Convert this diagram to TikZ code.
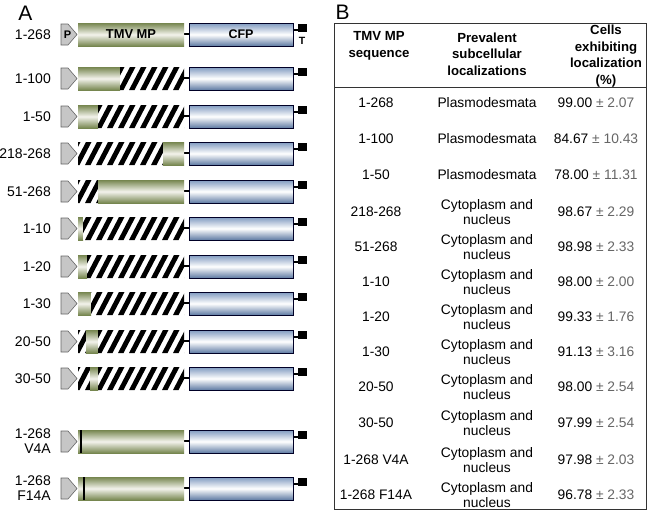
\documentclass[tikz,border=0pt]{standalone}
\usepackage{fontspec}
\setmainfont{Liberation Sans}
\definecolor{mpg}{HTML}{76864F}
\definecolor{mpl}{HTML}{F3F3EC}
\definecolor{cfpt}{HTML}{7F99BF}
\definecolor{cfpb}{HTML}{5E7AA3}
\definecolor{pgray}{HTML}{C6C6C6}
\definecolor{valgray}{HTML}{666666}
\definecolor{tabline}{HTML}{333333}
\tikzset{
  lbl/.style={anchor=east, inner sep=0pt, font=\fontsize{14}{15}\selectfont},
  cell/.style={align=center, inner sep=0pt, font=\fontsize{13.8}{15.5}\selectfont},
  head/.style={align=center, inner sep=0pt, font=\fontsize{13.2}{16.5}\selectfont\bfseries},
  panel/.style={anchor=center, inner sep=0pt, font=\fontsize{21}{21}\selectfont},
  promoter/.style={fill=pgray, draw=black!60, line width=0.6pt},
  cfpbox/.style={top color=cfpt, bottom color=cfpb, middle color=white, draw=black!85!blue, line width=0.9pt},
  mpbox/.style={top color=mpg, bottom color=mpg, middle color=mpl},
  linker/.style={line width=2pt, black},
  mutline/.style={line width=1.6pt, black}
}
% #1 = top y of the row
\newcommand\construct[1]{%
  \filldraw[promoter] (61,#1+1) -- (68,#1+1) -- (77,#1+11.5) -- (68,#1+22) -- (61,#1+22) -- cycle;
  \shade[cfpbox] (189,#1) rectangle (293,#1+23);
  \draw[linker] (184,#1+11) -- (189,#1+11);
  \draw[line width=1.5pt] (293.5,#1+7) -- (298,#1+7);
  \fill[black] (298,#1+1) rectangle (307,#1+9);
}
% #1 top, #2 x1, #3 x2
\newcommand\greenseg[3]{\shade[mpbox] (#2,#1) rectangle (#3,#1+23);}
\newcommand\hatchseg[3]{%
  \begin{scope}
    \clip (#2,#1) rectangle (#3,#1+23);
    \fill[white] (#2,#1) rectangle (#3,#1+23);
    \foreach \s in {52,63,...,190} {
      \fill[black] (\s,#1+23) -- (\s+5.5,#1+23) -- (\s+17.5,#1) -- (\s+12,#1) -- cycle;
    }
  \end{scope}
}
\begin{document}
\begin{tikzpicture}[x=1pt,y=-1pt]
\useasboundingbox (0,0) rectangle (650,512);
\fill[white] (0,0) rectangle (650,512);

% ---------- Panel A ----------
\node[panel] (pA) at (25.5,13) {A};

% row 1: 1-268
\construct{23}
\greenseg{23}{78}{184}
\node[inner sep=0pt, font=\fontsize{11}{11}\selectfont\bfseries] (P) at (67.5,34.5) {P};
\node[inner sep=0pt, font=\fontsize{12.9}{13}\selectfont\bfseries] (tmv) at (131,34.5) {TMV MP};
\node[inner sep=0pt, font=\fontsize{12.5}{13}\selectfont\bfseries] (cfp) at (241,34.5) {CFP};
\node[inner sep=0pt, font=\fontsize{10.5}{11}\selectfont\bfseries] (T) at (302,40.5) {T};
\node[lbl] (l1) at (51,34.5) {1-268};

% row 2: 1-100
\construct{67}
\greenseg{67}{78}{120}\hatchseg{67}{120}{184}
\node[lbl] (l2) at (51,78.5) {1-100};

% row 3: 1-50
\construct{105}
\greenseg{105}{78}{98}\hatchseg{105}{98}{184}
\node[lbl] (l3) at (51,116.5) {1-50};

% row 4: 218-268
\construct{142}
\hatchseg{142}{78}{163}\greenseg{142}{163}{184}
\node[lbl] (l4) at (51,153.5) {218-268};

% row 5: 51-268
\construct{180}
\hatchseg{180}{78}{98}\greenseg{180}{98}{184}
\node[lbl] (l5) at (51,191.5) {51-268};

% row 6: 1-10
\construct{217}
\greenseg{217}{78}{83}\hatchseg{217}{83}{184}
\node[lbl] (l6) at (51,228.5) {1-10};

% row 7: 1-20
\construct{255}
\greenseg{255}{78}{87}\hatchseg{255}{87}{184}
\node[lbl] (l7) at (51,266.5) {1-20};

% row 8: 1-30
\construct{292}
\greenseg{292}{78}{91}\hatchseg{292}{91}{184}
\node[lbl] (l8) at (51,303.5) {1-30};

% row 9: 20-50
\construct{330}
\hatchseg{330}{78}{86}\greenseg{330}{86}{98}\hatchseg{330}{98}{184}
\node[lbl] (l9) at (51,341.5) {20-50};

% row 10: 30-50
\construct{367}
\hatchseg{367}{78}{90}\greenseg{367}{90}{98}\hatchseg{367}{98}{184}
\node[lbl] (l10) at (51,378.5) {30-50};

% row 11: 1-268 V4A
\construct{430}
\greenseg{430}{78}{184}
\draw[mutline] (81,430) -- (81,453);
\node[lbl, align=right] (l11) at (51,441.5) {1-268\\V4A};

% row 12: 1-268 F14A
\construct{477}
\greenseg{477}{78}{184}
\draw[mutline] (84,477) -- (84,500);
\node[lbl, align=right] (l12) at (51,488.5) {1-268\\F14A};

% ---------- Panel B ----------
\node[panel] (pB) at (342.5,12) {B};
\draw[tabline, line width=1pt] (334,23) rectangle (646,509);
\draw[tabline, line width=0.8pt] (334,87) -- (646,87);

\node[head] (h1) at (379,46) {TMV MP\\sequence};
\node[head] (h2) at (487,54) {Prevalent\\subcellular\\localizations};
\node[head] (h3) at (606,56) {Cells\\exhibiting\\localization\\(\%)};

\newcommand\trow[5]{%
  \node[cell] (a#1) at (376,#2) {#3};
  \node[cell] (b#1) at (487,#2) {#4};
  \node[cell] (c#1) at (596,#2) {#5};
}
\def\cyt{Cytoplasm and\\nucleus}
\trow{1}{103}{1-268}{Plasmodesmata}{99.00 {\color{valgray}± 2.07}}
\trow{2}{139}{1-100}{Plasmodesmata}{84.67 {\color{valgray}± 10.43}}
\trow{3}{175}{1-50}{Plasmodesmata}{78.00 {\color{valgray}± 11.31}}
\trow{4}{212}{218-268}{\cyt}{98.67 {\color{valgray}± 2.29}}
\trow{5}{247}{51-268}{\cyt}{98.98 {\color{valgray}± 2.33}}
\trow{6}{282}{1-10}{\cyt}{98.00 {\color{valgray}± 2.00}}
\trow{7}{317}{1-20}{\cyt}{99.33 {\color{valgray}± 1.76}}
\trow{8}{352}{1-30}{\cyt}{91.13 {\color{valgray}± 3.16}}
\trow{9}{387}{20-50}{\cyt}{98.00 {\color{valgray}± 2.54}}
\trow{10}{423}{30-50}{\cyt}{97.99 {\color{valgray}± 2.54}}
\trow{11}{460}{1-268 V4A}{\cyt}{97.98 {\color{valgray}± 2.03}}
\trow{12}{495}{1-268 F14A}{\cyt}{96.78 {\color{valgray}± 2.33}}
\end{tikzpicture}
\end{document}
